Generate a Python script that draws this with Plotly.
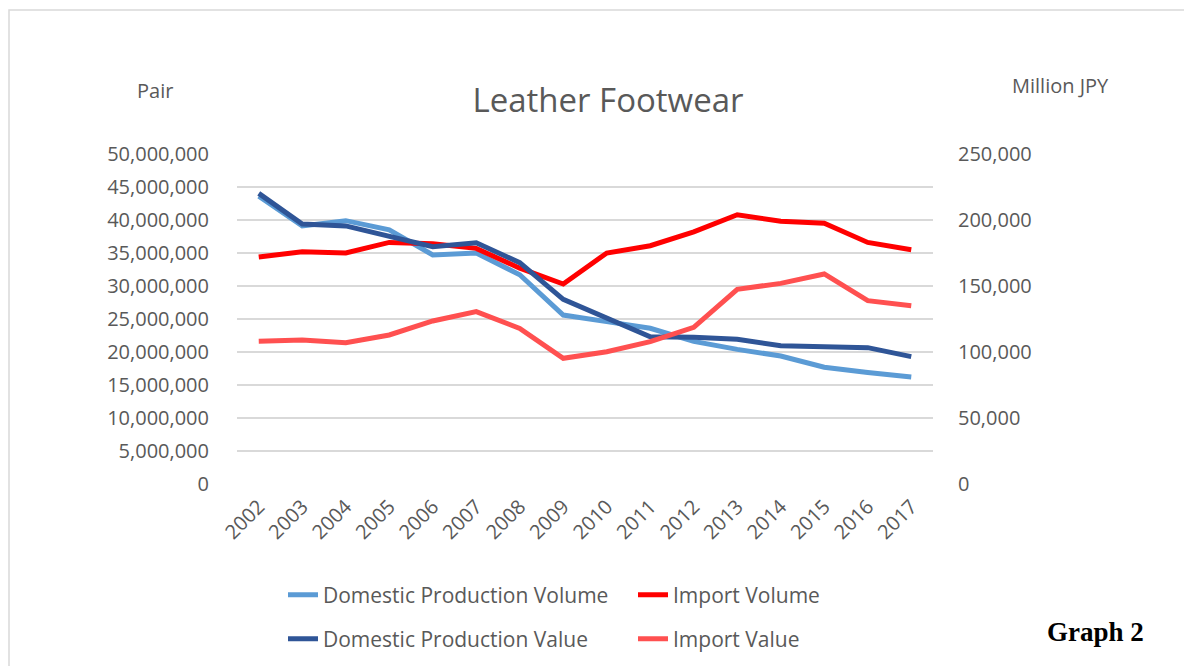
import plotly.graph_objects as go

years = [str(y) for y in range(2002, 2018)]
dom_volume = [43.6e6, 39.1e6, 39.9e6, 38.5e6, 34.7e6, 35.0e6, 31.7e6, 25.6e6,
              24.6e6, 23.6e6, 21.6e6, 20.4e6, 19.4e6, 17.7e6, 16.9e6, 16.2e6]
imp_volume = [34.4e6, 35.2e6, 35.0e6, 36.6e6, 36.4e6, 35.7e6, 32.7e6, 30.3e6,
              35.0e6, 36.1e6, 38.2e6, 40.8e6, 39.8e6, 39.5e6, 36.6e6, 35.5e6]
dom_value = [220200, 197000, 195500, 187400, 179800, 182800, 167700, 139900,
             126000, 111600, 111100, 109600, 104800, 104000, 103300, 96500]
imp_value = [108100, 109100, 107100, 112900, 123500, 130600, 117900, 95200,
             100200, 107800, 118700, 147500, 152000, 159100, 138900, 135100]

left_ticks = list(range(0, 50000001, 5000000))
right_ticks = list(range(0, 250001, 50000))

FONT = "Open Sans"
GREY = "#595959"
W, H = 1192, 666
OFF = 8  # page offset of the figure (body margin)
# target plot area in page pixels
PL, PR, PT, PB = 237, 933, 154, 484
ML, MR, MT, MB = PL - OFF, W - (PR - OFF), PT - OFF, H - (PB - OFF)


def px(x):
    return (x - PL) / (PR - PL)


def py(y):
    return (PB - y) / (PB - PT)


def cx(x):
    return (x - OFF) / W


def cy(y):
    return 1 - (y - OFF) / H


series = [
    ("Domestic Production Volume", dom_volume, "#5B9BD5", "y", "legend", 283, 595),
    ("Import Volume", imp_volume, "#FF0000", "y", "legend2", 633, 595),
    ("Domestic Production Value", dom_value, "#2F5597", "y2", "legend3", 283, 639),
    ("Import Value", imp_value, "#FF5050", "y2", "legend4", 633, 639),
]

fig = go.Figure()
legend_layout = {}
for name, vals, color, yax, leg, lx, ly in series:
    fig.add_trace(go.Scatter(x=years, y=vals, name=name, mode="lines",
                             line=dict(color=color, width=5),
                             yaxis=yax, legend=leg))
    legend_layout[leg] = dict(
        orientation="h", font=dict(family=FONT, size=21, color=GREY),
        xref="container", yref="container", x=cx(lx), y=cy(ly),
        xanchor="left", yanchor="middle", bgcolor="rgba(0,0,0,0)",
        itemclick=False, itemdoubleclick=False)

fig.update_layout(
    width=W, height=H,
    margin=dict(l=ML, r=MR, t=MT, b=MB, pad=0, autoexpand=False),
    paper_bgcolor="white", plot_bgcolor="white",
    font=dict(family=FONT, color=GREY, size=20),
    title=dict(text="Leather Footwear", x=cx(608), xanchor="center",
               xref="container", yref="container",
               y=cy(100), yanchor="middle",
               font=dict(family=FONT, size=33, color=GREY)),
    xaxis=dict(type="category", range=[-0.5, 15.5], tickangle=-45,
               showgrid=False, zeroline=False, showline=False, ticks="",
               automargin=False,
               tickfont=dict(family=FONT, size=20, color=GREY),
               ticklabelstandoff=6),
    yaxis=dict(range=[0, 50000000], tickvals=left_ticks, tickformat=",",
               showgrid=True, gridcolor="#D9D9D9", gridwidth=1.5,
               zeroline=False, showline=False, ticks="", automargin=False,
               tickfont=dict(family=FONT, size=20, color=GREY),
               ticklabelstandoff=27),
    yaxis2=dict(range=[0, 250000], tickvals=right_ticks, tickformat=",",
                overlaying="y", side="right", showgrid=False,
                zeroline=False, showline=False, ticks="", automargin=False,
                tickfont=dict(family=FONT, size=20, color=GREY),
                ticklabelstandoff=24),
    showlegend=True,
    **legend_layout,
)

fig.add_annotation(text="Pair", xref="paper", yref="paper", x=px(155), y=py(90),
                   xanchor="center", yanchor="middle",
                   showarrow=False, font=dict(family=FONT, size=20, color=GREY))
fig.add_annotation(text="Million JPY", xref="paper", yref="paper", x=px(1060), y=py(85),
                   xanchor="center", yanchor="middle",
                   showarrow=False, font=dict(family=FONT, size=20, color=GREY))
fig.add_annotation(text="<b>Graph 2</b>", xref="paper", yref="paper", x=px(1095), y=py(632),
                   xanchor="center", yanchor="middle",
                   showarrow=False,
                   font=dict(family="Liberation Serif", size=27, color="black"))

fig.add_shape(type="rect", xref="paper", yref="paper",
              x0=px(9), y0=py(720), x1=px(1260), y1=py(10),
              line=dict(color="#D9D9D9", width=1.5), fillcolor="rgba(0,0,0,0)",
              layer="below")

fig.write_html("out.html")
